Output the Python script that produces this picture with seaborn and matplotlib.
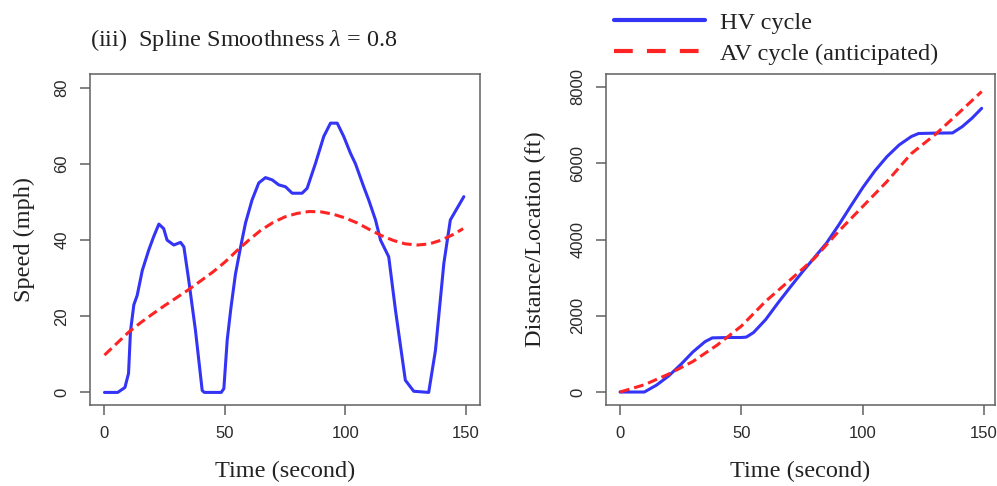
import seaborn as sns
import numpy as np
import matplotlib.pyplot as plt
import pandas as pd
from matplotlib.lines import Line2D

# HV speed cycle
hv_time = [0, 5.5, 8.5, 10, 10.8, 12.2, 13.6, 15.7, 18.4, 20.5, 22.6, 24.6, 26,
           28.8, 31.6, 33, 35, 37.8, 40.6, 41.5, 48.5, 49.6, 51, 52.5, 54.4,
           56.5, 58.6, 61.3, 64.1, 66.9, 69.7, 72.4, 75.2, 78, 82.1, 84.2, 87.7,
           91.1, 93.9, 96.7, 99.4, 102.2, 104.3, 107.7, 109.8, 112.6, 114.7,
           118.1, 120.9, 125, 128.5, 134.7, 137.5, 141, 143.7, 149.3]
hv_speed = [0, 0, 1.3, 5, 16, 23, 25.5, 32, 37.4, 41, 44.2, 43, 40,
            38.7, 39.4, 38.2, 29.5, 16.3, 0.5, 0, 0, 1, 13.8, 22, 31,
            38, 44.5, 50.5, 55, 56.4, 55.8, 54.5, 54, 52.3, 52.3, 53.6, 60.2,
            67.2, 70.7, 70.7, 67.2, 62.8, 60, 54, 50.5, 45.3, 40,
            35.6, 21.6, 3.2, 0.3, 0, 11, 33.9, 45.3, 51.4]

# AV speed (smoothing spline, lambda = 0.8)
av_time = [0, 5, 10, 15, 20, 25, 30, 35, 40, 45, 50, 55, 60, 65, 70, 75, 80,
           85, 90, 95, 100, 105, 110, 115, 120, 125, 130, 135, 140, 145, 149]
av_speed = [9.8, 12.8, 15.8, 18.3, 20.6, 22.8, 24.9, 27.0, 29.3, 31.6, 34.2,
            37.2, 40.0, 42.6, 44.6, 46.1, 47.0, 47.5, 47.4, 46.8, 45.8, 44.5,
            42.8, 41.2, 39.9, 39.0, 38.7, 39.0, 40.0, 41.5, 43.0]

# distance / location (right panel)
hv_dist_time = [0, 5, 10, 15, 20, 25, 30, 35, 38, 45, 50, 52, 55, 60, 65, 70,
                75, 80, 85, 90, 95, 100, 105, 110, 115, 120, 123, 130, 137,
                141, 145, 149]
hv_dist = [0, 0, 0, 180, 420, 720, 1050, 1320, 1420, 1430, 1430, 1440, 1560,
           1900, 2330, 2740, 3140, 3520, 3900, 4370, 4870, 5360, 5800, 6175,
           6480, 6700, 6780, 6790, 6795, 6960, 7180, 7440]
av_dist_time = [0, 10, 20, 30, 40, 50, 60, 70, 80, 90, 100, 110, 120, 130,
                140, 149]
av_dist = [0, 190, 470, 800, 1230, 1730, 2380, 2935, 3500, 4210, 4866, 5522,
           6252, 6760, 7345, 7880]

blue = "#3434f6"
red = "#ff2424"
dash = (0, (3.2, 1.6))

sns.set_style("ticks")
plt.rcParams["font.family"] = ["Liberation Serif", "DejaVu Serif"]
plt.rcParams["mathtext.fontset"] = "custom"
plt.rcParams["mathtext.rm"] = "Liberation Serif"
plt.rcParams["mathtext.it"] = "Liberation Serif:italic"

fig = plt.figure(figsize=(9.97, 4.86), dpi=100)
ax1 = fig.add_axes([0.0903, 0.1667, 0.3911, 0.681])
ax2 = fig.add_axes([0.6078, 0.1667, 0.3902, 0.681])

sns.lineplot(x=hv_time, y=hv_speed, ax=ax1, color=blue, lw=2.2)
sns.lineplot(x=av_time, y=av_speed, ax=ax1, color=red, lw=2.2, linestyle=dash)
sns.lineplot(x=hv_dist_time, y=hv_dist, ax=ax2, color=blue, lw=2.2)
sns.lineplot(x=av_dist_time, y=av_dist, ax=ax2, color=red, lw=2.2, linestyle=dash)

ax1.set_xlim(-6, 156)
ax1.set_ylim(-3.3, 83.6)
ax1.set_yticks([0, 20, 40, 60, 80])
ax2.set_xlim(-5.8, 154.5)
ax2.set_ylim(-340, 8340)
ax2.set_yticks([0, 2000, 4000, 6000, 8000])

for ax in (ax1, ax2):
    ax.set_xticks([0, 50, 100, 150])
    for s in ax.spines.values():
        s.set_visible(True)
        s.set_color("#606060")
        s.set_linewidth(1.1)
    ax.tick_params(direction="out", length=7, width=1.1, color="#606060",
                   labelsize=12, labelcolor="#2a2a2a", pad=8)
    for lab in ax.get_xticklabels() + ax.get_yticklabels():
        lab.set_family(["Liberation Sans", "DejaVu Sans"])
    plt.setp(ax.get_yticklabels(), rotation=90, va="center")
    ax.set_xlabel("Time (second)", fontsize=17.5, color="#222222", labelpad=14.5)

ax1.set_ylabel("Speed (mph)", fontsize=17.5, color="#222222", labelpad=14)
ax2.set_ylabel("Distance/Location (ft)", fontsize=17.5, color="#222222",
               labelpad=17.5)

fig.text(0.0903, 1 - 40 / 486, r"(iii)  Spline Smoothness $\lambda$ = 0.8",
         fontsize=17.5, color="#222222", va="center", ha="left")

handles = [Line2D([], [], color=blue, lw=3),
           Line2D([], [], color=red, lw=3, linestyle=(0, (4.5, 3.4)))]
fig.legend(handles, ["HV cycle", "AV cycle (anticipated)"], loc="upper left",
           bbox_to_anchor=(0.616, 0.9756), frameon=False, fontsize=17.5,
           handlelength=3.75, handletextpad=0.6, labelspacing=0.37,
           borderpad=0, borderaxespad=0, labelcolor="#222222")

fig.savefig("out.png", dpi=100)
